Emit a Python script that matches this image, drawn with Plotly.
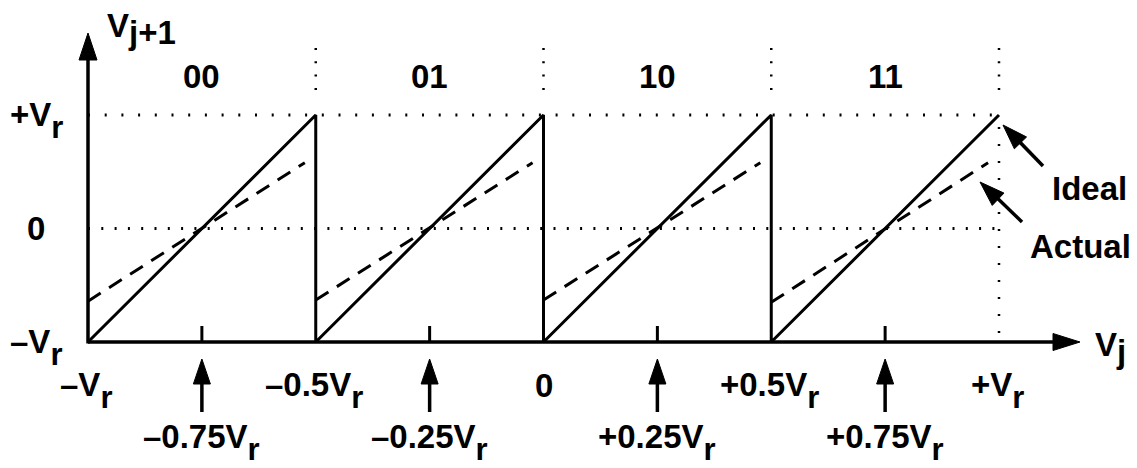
import plotly.graph_objects as go

# ---------------- data ----------------
seg_starts = [-1.0, -0.5, 0.0, 0.5]          # start of each 2-bit sub-range (units of Vr)
seg_width = 0.5
ideal_low = -1.0
ideal_high = 1.0
actual_low = [-0.64, -0.63, -0.63, -0.65]    # dashed "Actual" residue at start of each range
actual_high = [0.58, 0.58, 0.58, 0.58]       # dashed "Actual" residue near end of each range
actual_span = 0.476
codes = ["00", "01", "10", "11"]

x_tick_vals = [-1.0, -0.5, 0.0, 0.5, 1.0]
x_tick_text = ["–V_r", "–0.5V_r", "0", "+0.5V_r", "+V_r"]
mid_tick_vals = [-0.75, -0.25, 0.25, 0.75]
mid_tick_text = ["–0.75V_r", "–0.25V_r", "+0.25V_r", "+0.75V_r"]
y_tick_vals = [-1.0, 0.0, 1.0]
y_tick_text = ["–V_r", "0", "+V_r"]
x_label = "V_j"
y_label = "V_j+1"

# ---------------- geometry / style ----------------
W_PAGE, H_PAGE = 1137, 468
OFF = 8                          # default page body margin
W, H = W_PAGE - OFF, H_PAGE - OFF
X0_PX, X_SCALE = 88.0, 455.5     # page px of x=-1, px per unit
Y0_PX, Y_SCALE = 342.0, 113.5    # page px of y=-1, px per unit
FONT = "Liberation Sans"
FS = 33
SUBFS = 31
BLACK = "black"


def px2x(px):
    return -1 + (px - X0_PX) / X_SCALE


def py2y(py):
    return -1 + (Y0_PX - py) / Y_SCALE


def x2px(x):
    return X0_PX + (x + 1) * X_SCALE


def y2py(y):
    return Y0_PX - (y + 1) * Y_SCALE


def fmt(t):
    if "V_r" in t:
        return t.replace("V_r", "V<sub><sub><span style='font-size:%dpx'>r</span></sub></sub>" % SUBFS)
    if t.startswith("V_"):
        return "V<sub><span style='font-size:%dpx'>%s</span></sub>" % (33, t[2:])
    return t


fig = go.Figure()


def head(tip_px, d, length, width):
    tx, ty = tip_px
    dx, dy = d
    n = (dx * dx + dy * dy) ** 0.5
    dx, dy = dx / n, dy / n
    bx, by = tx - dx * length, ty - dy * length
    px_, py_ = -dy, dx
    pts = [(tx, ty), (bx + px_ * width / 2, by + py_ * width / 2),
           (bx - px_ * width / 2, by - py_ * width / 2), (tx, ty)]
    fig.add_trace(go.Scatter(x=[px2x(p[0]) for p in pts], y=[py2y(p[1]) for p in pts],
                             mode="lines", fill="toself", fillcolor=BLACK,
                             line=dict(color=BLACK, width=1), hoverinfo="skip"))


def seg(p0, p1, width=3.5):
    fig.add_trace(go.Scatter(x=[px2x(p0[0]), px2x(p1[0])], y=[py2y(p0[1]), py2y(p1[1])],
                             mode="lines", line=dict(color=BLACK, width=width),
                             hoverinfo="skip"))


# dotted guide lines
shapes = []
shapes.append(dict(type="line", x0=-1, x1=1, y0=ideal_high, y1=ideal_high, layer="below",
                   line=dict(color=BLACK, width=3, dash="2px,14.7px")))
shapes.append(dict(type="line", x0=-1, x1=1, y0=0, y1=0, layer="below",
                   line=dict(color=BLACK, width=3, dash="2px,11.3px")))
for s in seg_starts:
    xe = s + seg_width
    shapes.append(dict(type="line", x0=xe, x1=xe, y0=py2y(48), y1=py2y(92), layer="below",
                       line=dict(color=BLACK, width=2.5, dash="2px,11.3px")))
shapes.append(dict(type="line", x0=1, x1=1, y0=py2y(127), y1=py2y(336), layer="below",
                   line=dict(color=BLACK, width=2.5, dash="2px,15px")))

# ideal sawtooth
ix, iy = [], []
for s in seg_starts:
    ix += [s, s + seg_width]
    iy += [ideal_low, ideal_high]
    if s + seg_width < 1:
        ix += [s + seg_width]
        iy += [ideal_low]
fig.add_trace(go.Scatter(x=ix, y=iy, mode="lines", line=dict(color=BLACK, width=3),
                         hoverinfo="skip"))

# actual (dashed)
for s, lo, hi in zip(seg_starts, actual_low, actual_high):
    fig.add_trace(go.Scatter(x=[s, s + actual_span], y=[lo, hi], mode="lines",
                             line=dict(color=BLACK, width=3, dash="15px,10px"),
                             hoverinfo="skip"))

# axes with arrows
seg((X0_PX, Y0_PX), (1062, Y0_PX))
head((1080, Y0_PX), (1, 0), 27, 17)
seg((X0_PX, Y0_PX + 1.5), (X0_PX, 52))
head((X0_PX, 33), (0, -1), 27, 18)

# mid-range ticks and pointer arrows
for v in mid_tick_vals:
    xp = x2px(v)
    seg((xp, Y0_PX), (xp, 326), width=3)
    seg((xp, 412), (xp, 378), width=3.5)
    head((xp, 359), (0, -1), 25, 17)

# Ideal / Actual pointers
seg((1043, 166), (1012, 134), width=3.5)
head((1003, 125), (1003 - 1043, 125 - 166), 25, 17)
seg((1022, 222), (990, 191), width=3.5)
head((980, 182), (980 - 1022, 182 - 222), 25, 17)

annotations = []


def text(t, xpx, ypx):
    annotations.append(dict(text=fmt(t), x=px2x(xpx), y=py2y(ypx), xref="x", yref="y",
                            showarrow=False, xanchor="center", yanchor="middle",
                            font=dict(family=FONT, size=FS, color=BLACK, weight="bold")))


SUBSHIFT = 5
for c, s in zip(codes, seg_starts):
    text(c, x2px(s + seg_width / 2), 76)
for v, t in zip(x_tick_vals, x_tick_text):
    text(t, x2px(v) - (2 if "V" in t else 0), 385 + (SUBSHIFT if "V" in t else 0))
for v, t in zip(mid_tick_vals, mid_tick_text):
    text(t, x2px(v), 437 + SUBSHIFT)
for v, t in zip(y_tick_vals, y_tick_text):
    text(t, 36, y2py(v) + (SUBSHIFT if "V" in t else 0))
text(y_label, 141, 29)
text(x_label, 1110, 348)
text("Ideal", 1089, 188)
text("Actual", 1080, 246)

fig.update_layout(
    width=W, height=H, autosize=False,
    margin=dict(l=0, r=0, t=0, b=0),
    paper_bgcolor="white", plot_bgcolor="white",
    showlegend=False, hovermode=False,
    xaxis=dict(range=[px2x(OFF), px2x(W_PAGE)], visible=False, fixedrange=True),
    yaxis=dict(range=[py2y(H_PAGE), py2y(OFF)], visible=False, fixedrange=True),
    shapes=shapes, annotations=annotations,
)

fig.write_html("out.html", config={"displayModeBar": False})
